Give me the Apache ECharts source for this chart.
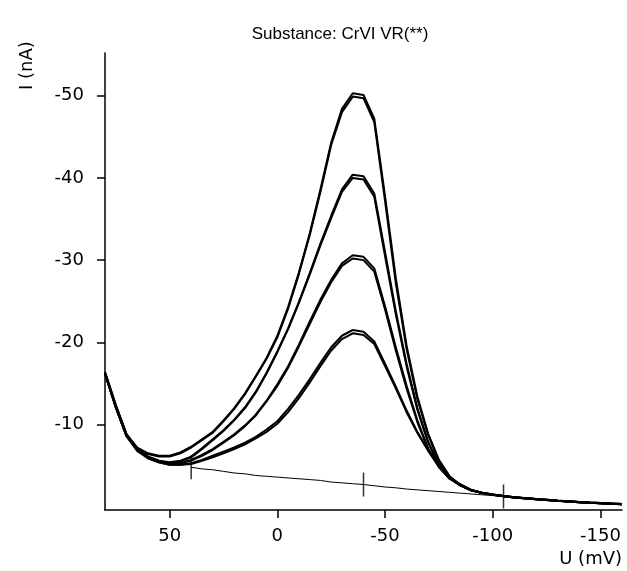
<!DOCTYPE html>
<html>
<head>
<meta charset="utf-8">
<script src="https://cdn.jsdelivr.net/npm/echarts@6/dist/echarts.min.js"></script>
<style>
html,body{margin:0;padding:0;background:#fff;}
#chart{width:627px;height:571px;}
</style>
</head>
<body>
<div id="chart"></div>
<script>
// Potential (mV)
var U = [80,75,70,65,60,55,50,45,40,35,30,25,20,15,10,5,0,-5,-10,-15,-20,-25,-30,-35,-40,-45,-50,-55,-60,-65,-70,-75,-80,-85,-90,-95,-100,-105,-110,-115,-120,-125,-130,-135,-140,-145,-150,-155,-160];

// Current (nA) for each scan
var A1 = [-16.3,-12.3,-8.8,-7.2,-6.5,-6.2,-6.2,-6.6,-7.3,-8.2,-9.1,-10.5,-12.0,-13.8,-15.9,-18.1,-20.8,-24.3,-28.5,-33.2,-38.6,-44.3,-48.4,-50.3,-50.1,-47.2,-37.8,-27.8,-19.6,-13.4,-8.9,-5.7,-3.7,-2.6,-2.0,-1.7,-1.5,-1.3,-1.15,-1.05,-0.95,-0.85,-0.75,-0.66,-0.58,-0.5,-0.44,-0.38,-0.32];
var A2 = [-16.4,-12.4,-8.8,-7.1,-6.4,-6.1,-6.1,-6.5,-7.2,-8.1,-9.0,-10.4,-11.9,-13.7,-15.8,-18.0,-20.6,-24.1,-28.3,-33.0,-38.3,-44.0,-48.0,-49.9,-49.7,-46.8,-37.2,-27.2,-19.2,-13.1,-8.7,-5.6,-3.6,-2.6,-2.0,-1.7,-1.45,-1.28,-1.12,-1.02,-0.92,-0.82,-0.72,-0.63,-0.55,-0.48,-0.42,-0.36,-0.3];
var B1 = [-16.2,-12.2,-8.7,-7.0,-6.1,-5.6,-5.4,-5.6,-6.1,-7.1,-8.2,-9.3,-10.6,-12.1,-14.0,-16.3,-18.9,-21.7,-24.9,-28.4,-32.0,-35.4,-38.6,-40.4,-40.2,-38.1,-31.0,-23.8,-17.4,-12.0,-7.9,-5.2,-3.5,-2.6,-2.0,-1.7,-1.48,-1.3,-1.15,-1.04,-0.94,-0.84,-0.74,-0.65,-0.57,-0.5,-0.44,-0.38,-0.33];
var B2 = [-16.3,-12.3,-8.7,-7.0,-6.1,-5.6,-5.3,-5.5,-6.0,-7.0,-8.1,-9.2,-10.5,-12.0,-13.9,-16.2,-18.8,-21.6,-24.8,-28.2,-31.8,-35.1,-38.3,-40.0,-39.8,-37.7,-30.5,-23.4,-17.1,-11.8,-7.8,-5.1,-3.5,-2.6,-2.0,-1.68,-1.46,-1.28,-1.13,-1.02,-0.92,-0.82,-0.72,-0.63,-0.55,-0.48,-0.42,-0.36,-0.31];
var C1 = [-16.2,-12.1,-8.6,-6.9,-6.0,-5.5,-5.2,-5.3,-5.7,-6.3,-7.0,-7.9,-8.8,-9.9,-11.2,-12.9,-14.9,-17.1,-19.7,-22.5,-25.2,-27.6,-29.6,-30.6,-30.4,-29.0,-24.4,-19.4,-14.7,-10.5,-7.1,-4.9,-3.4,-2.6,-2.0,-1.68,-1.47,-1.3,-1.14,-1.03,-0.93,-0.83,-0.73,-0.64,-0.56,-0.49,-0.43,-0.37,-0.32];
var C2 = [-16.2,-12.1,-8.6,-6.9,-6.0,-5.5,-5.2,-5.3,-5.6,-6.2,-6.9,-7.8,-8.7,-9.8,-11.1,-12.8,-14.7,-16.9,-19.5,-22.2,-24.9,-27.3,-29.3,-30.2,-30.0,-28.6,-24.0,-19.0,-14.4,-10.3,-7.0,-4.8,-3.4,-2.6,-2.0,-1.66,-1.45,-1.28,-1.12,-1.01,-0.91,-0.81,-0.71,-0.62,-0.54,-0.47,-0.41,-0.35,-0.3];
var D1 = [-16.2,-12.1,-8.6,-6.8,-5.9,-5.4,-5.1,-5.1,-5.3,-5.7,-6.2,-6.7,-7.2,-7.8,-8.5,-9.4,-10.4,-11.9,-13.6,-15.5,-17.5,-19.4,-20.8,-21.5,-21.3,-20.1,-17.4,-14.6,-11.7,-9.1,-6.9,-5.0,-3.6,-2.7,-2.05,-1.7,-1.48,-1.3,-1.15,-1.04,-0.94,-0.84,-0.74,-0.65,-0.57,-0.5,-0.44,-0.38,-0.33];
var D2 = [-16.2,-12.1,-8.6,-6.8,-5.9,-5.4,-5.1,-5.1,-5.2,-5.6,-6.0,-6.5,-7.0,-7.6,-8.3,-9.1,-10.1,-11.5,-13.2,-15.1,-17.1,-19.0,-20.4,-21.1,-20.9,-19.8,-17.1,-14.4,-11.5,-9.0,-6.8,-4.9,-3.5,-2.7,-2.05,-1.7,-1.46,-1.28,-1.13,-1.02,-0.92,-0.82,-0.72,-0.63,-0.55,-0.48,-0.42,-0.36,-0.31];

// Baseline (from 40 mV onward)
var baseU = [40,35,30,25,20,15,10,5,0,-5,-10,-15,-20,-25,-30,-35,-40,-45,-50,-55,-60,-65,-70,-75,-80,-85,-90,-95,-100,-105,-110,-115,-120,-125,-130,-135,-140,-145,-150,-155,-160];
var baseI = [-4.8,-4.6,-4.5,-4.3,-4.1,-4.0,-3.8,-3.7,-3.6,-3.5,-3.4,-3.3,-3.2,-3.0,-2.9,-2.8,-2.7,-2.55,-2.4,-2.3,-2.15,-2.05,-1.95,-1.85,-1.75,-1.65,-1.55,-1.45,-1.35,-1.25,-1.15,-1.05,-0.95,-0.85,-0.75,-0.66,-0.58,-0.5,-0.44,-0.38,-0.32];

// Baseline anchor marks
var markU = [40,-40,-105];
var markI = [-4.8,-2.7,-1.25];

// Axis ticks
var xTicks = [50,0,-50,-100,-150];
var yTicks = [-50,-40,-30,-20,-10];

var titleText = 'Substance: CrVI VR(**)';
var xName = 'U (mV)';
var yName = 'I (nA)';

function pairs(xs, ys){ return xs.map(function(x,i){ return [x, ys[i]]; }); }

var scans = [A1,A2,B1,B2,C1,C2,D1,D2];
var series = scans.map(function(s){
  return {type:'line', data:pairs(U,s), showSymbol:false, symbol:'none', smooth:false,
    lineStyle:{color:'#000', width:2}, z:3, animation:false};
});
series.push({type:'line', data:pairs(baseU,baseI), symbol:'none', lineStyle:{color:'#000', width:1}, z:2, animation:false});
series.push({type:'scatter', data:pairs(markU,markI), symbol:'rect', symbolSize:[1.5,24], itemStyle:{color:'#000'}, z:4, animation:false});

var FONT = '"Liberation Sans", Arial, sans-serif';
var LFONT = '"DejaVu Sans", sans-serif';
var chart = echarts.init(document.getElementById('chart'), null, {renderer:'canvas'});
chart.setOption({
  backgroundColor:'#fff',
  animation:false,
  title:{text:titleText, left:335, top:21, textAlign:'center',
    textStyle:{fontFamily:FONT, fontSize:17, fontWeight:'normal', color:'#000'}},
  grid:{left:105, right:5, top:53, bottom:61, containLabel:false},
  xAxis:{type:'value', inverse:true, min:-160, max:80,
    axisLine:{show:true, onZero:false, lineStyle:{color:'#000', width:1.5}},
    axisTick:{show:true, inside:false, length:8, customValues:xTicks, lineStyle:{color:'#000', width:1.5}},
    axisLabel:{show:true, customValues:xTicks, margin:17, color:'#000', fontFamily:LFONT, fontSize:18},
    splitLine:{show:false}},
  yAxis:{type:'value', inverse:true, min:-55.2, max:0.4,
    axisLine:{show:true, onZero:false, lineStyle:{color:'#000', width:1.5}},
    axisTick:{show:true, inside:false, length:8, customValues:yTicks, lineStyle:{color:'#000', width:1.5}},
    axisLabel:{show:true, customValues:yTicks, margin:21, color:'#000', fontFamily:LFONT, fontSize:18},
    splitLine:{show:false}},
  graphic:[
    {type:'text', right:5, top:550, style:{text:xName, font:'18px "DejaVu Sans", sans-serif', fill:'#000'}},
    {type:'text', x:18, y:90, rotation:Math.PI/2, style:{text:yName, font:'18px "DejaVu Sans", sans-serif', fill:'#000'}}
  ],
  series:series
});
</script>
</body>
</html>
